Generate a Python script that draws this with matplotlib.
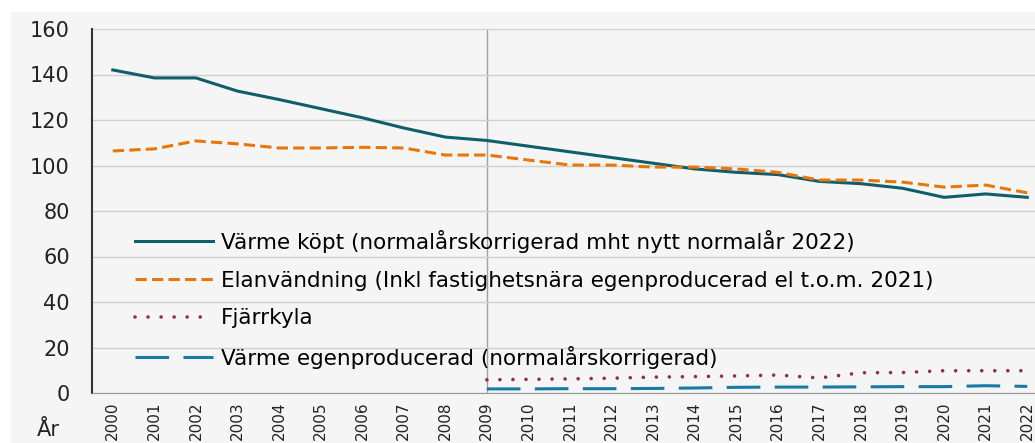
import matplotlib
matplotlib.use('Agg')
import matplotlib.pyplot as plt
from matplotlib.patches import Rectangle

plt.rcParams['font.family'] = ['DejaVu Sans']

years = list(range(2000, 2023))
years_new = list(range(2009, 2023))

varme_kopt = [142, 138.5, 138.5, 132.7, 129, 125, 121, 116.5, 112.5, 111, 108.5,
              106, 103.5, 101, 98.5, 97, 96, 93, 92, 90, 86, 87.5, 86]
elanvandning = [106.4, 107.3, 110.8, 109.5, 107.7, 107.7, 108, 107.7, 104.6, 104.6,
                102.4, 100.2, 100.2, 99.3, 99.3, 98.5, 97, 93.6, 93.6, 92.7, 90.5, 91.4, 88]
fjarrkyla = [5.8, 6.0, 6.2, 6.5, 7.0, 7.2, 7.5, 7.9, 6.6, 8.9, 9.0, 9.8, 9.8, 9.8]
varme_egen = [1.8, 1.8, 1.9, 1.9, 2.0, 2.2, 2.5, 2.6, 2.6, 2.7, 2.8, 2.8, 3.2, 2.9]

labels = ['Värme köpt (normalårskorrigerad mht nytt normalår 2022)',
          'Elanvändning (Inkl fastighetsnära egenproducerad el t.o.m. 2021)',
          'Fjärrkyla',
          'Värme egenproducerad (normalårskorrigerad)']

fig = plt.figure(figsize=(10.35, 4.43), dpi=100)
# light gray panel behind the chart, white margin top/left
fig.patches.append(Rectangle((11 / 1035, 0), 1, 1 - 12 / 443, transform=fig.transFigure,
                             facecolor='#f5f5f5', edgecolor='none', zorder=-10))

ax = fig.add_axes([92 / 1035, 50 / 443, 956 / 1035, 364 / 443])
ax.set_facecolor('none')

ax.plot(years, varme_kopt, color='#0f5e68', lw=2.2, label=labels[0])
ax.plot(years, elanvandning, color='#e8760f', lw=2.2, dashes=(3.7, 1.7), label=labels[1])
ax.plot(years_new, fjarrkyla, color='#8a2f52', lw=2.6, dashes=(0.01, 3.6),
        dash_capstyle='round', label=labels[2])
ax.plot(years_new, varme_egen, color='#1b7aa3', lw=2.2, dashes=(11, 4.7), label=labels[3])

ax.axvline(2009, color='#a0a0a0', lw=1, zorder=0)

ax.set_xlim(1999.5, 2022.5)
ax.set_ylim(0, 160)
ax.set_yticks(range(0, 161, 20))
ax.set_xticks(years)
ax.set_xticklabels([str(y) for y in years], rotation=90, fontsize=11, color='#222222')
ax.tick_params(axis='y', labelsize=15, colors='#222222', length=0, pad=16)
ax.tick_params(axis='x', length=0, pad=6)
ax.grid(axis='y', color='#d0d0d0', lw=1)
ax.set_axisbelow(True)
for s in ['top', 'right']:
    ax.spines[s].set_visible(False)
ax.spines['left'].set_color('#333333')
ax.spines['left'].set_linewidth(1.5)
ax.spines['bottom'].set_color('#999999')

fig.text(37 / 1035, 1 - 430 / 443, 'År', fontsize=15, color='#222222', va='center')

ax.legend(loc='upper left', bbox_to_anchor=(135 / 1035, 1 - 230 / 443),
          bbox_transform=fig.transFigure, frameon=False, fontsize=15.5,
          handlelength=3.6, labelspacing=0.82, handletextpad=0.4,
          borderpad=0, borderaxespad=0)

fig.savefig('out.png', dpi=100)
